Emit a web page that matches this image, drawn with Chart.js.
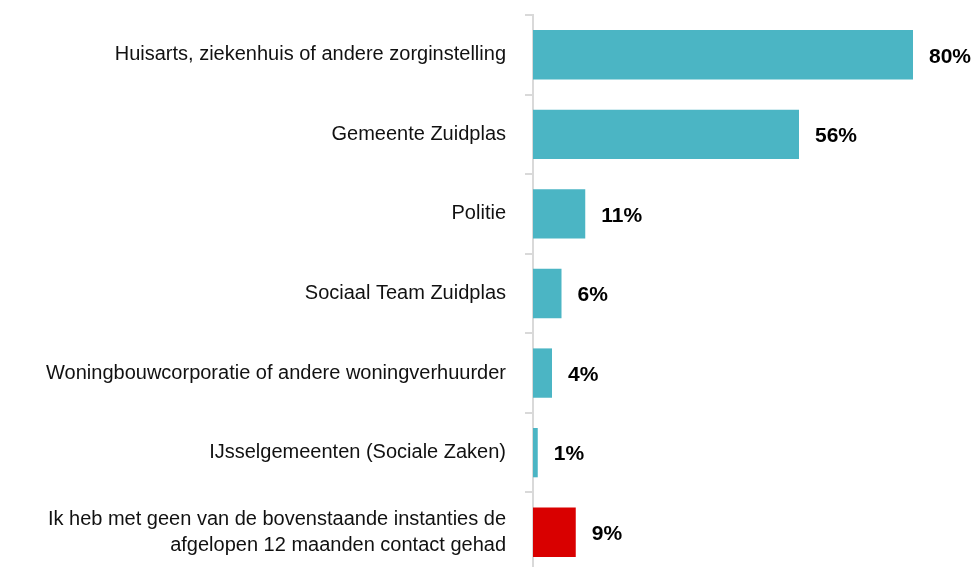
<!DOCTYPE html>
<html>
<head>
<meta charset="utf-8">
<script src="https://cdn.jsdelivr.net/npm/chart.js@4"></script>
<style>
  html, body { margin: 0; padding: 0; background: #fff; overflow: hidden; }
  #wrap { width: 977px; height: 572px; position: relative; }
</style>
</head>
<body>
<div id="wrap"><canvas id="barChart"></canvas></div>
<script>
const categories = [
  "Huisarts, ziekenhuis of andere zorginstelling",
  "Gemeente Zuidplas",
  "Politie",
  "Sociaal Team Zuidplas",
  "Woningbouwcorporatie of andere woningverhuurder",
  "IJsselgemeenten (Sociale Zaken)",
  ["Ik heb met geen van de bovenstaande instanties de", "afgelopen 12 maanden contact gehad"]
];
const percentages = [80, 56, 11, 6, 4, 1, 9];
const barColors = ["#4bb5c4", "#4bb5c4", "#4bb5c4", "#4bb5c4", "#4bb5c4", "#4bb5c4", "#d90000"];

// value labels next to the bars
const valueLabels = {
  id: 'valueLabels',
  afterDatasetsDraw(chart) {
    const ctx = chart.ctx;
    const meta = chart.getDatasetMeta(0);
    ctx.save();
    ctx.font = 'bold 21px "Liberation Sans", Arial, sans-serif';
    ctx.fillStyle = '#000';
    ctx.textAlign = 'left';
    ctx.textBaseline = 'middle';
    meta.data.forEach((bar, i) => {
      ctx.fillText(percentages[i] + '%', bar.x + 16, bar.y + 2);
    });
    ctx.restore();
  }
};

new Chart(document.getElementById('barChart'), {
  type: 'bar',
  data: {
    labels: categories,
    datasets: [{
      data: percentages,
      backgroundColor: barColors,
      barPercentage: 0.62,
      categoryPercentage: 1.0
    }]
  },
  options: {
    indexAxis: 'y',
    responsive: true,
    maintainAspectRatio: false,
    animation: false,
    layout: { padding: { top: 15, right: 64, bottom: 0, left: 0 } },
    plugins: {
      legend: { display: false },
      tooltip: { enabled: false }
    },
    scales: {
      x: { display: false, min: 0, max: 80 },
      y: {
        afterFit: s => { s.width = 533; s.paddingTop = 0; s.paddingBottom = 0; },
        border: { color: '#d9d9d9', width: 2 },
        grid: { drawOnChartArea: false, color: '#d9d9d9', tickLength: 8, lineWidth: 2 },
        ticks: {
          color: '#111',
          padding: 19,
          font: { family: '"Liberation Sans", Arial, sans-serif', size: 20, lineHeight: 1.3 }
        }
      }
    }
  },
  plugins: [valueLabels]
});
</script>
</body>
</html>
